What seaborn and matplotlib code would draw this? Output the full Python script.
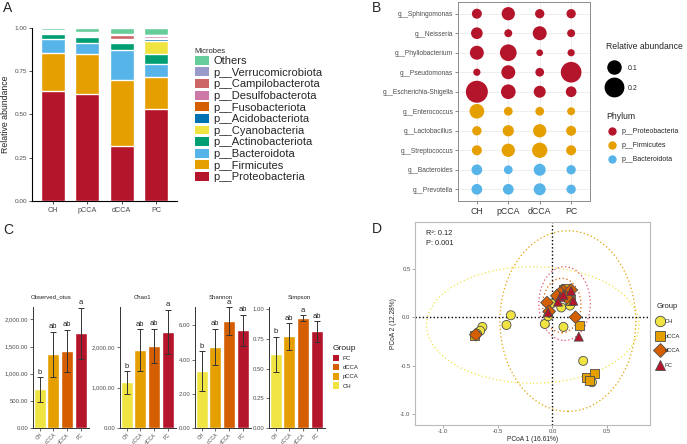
import numpy as np
import pandas as pd
import matplotlib
matplotlib.use("Agg")
import matplotlib.pyplot as plt
import seaborn as sns
from matplotlib.patches import Ellipse, Patch
from matplotlib.lines import Line2D
from matplotlib.ticker import FuncFormatter

sns.set_theme(style="white")
plt.rcParams['font.family'] = ['Liberation Sans', 'DejaVu Sans']

W, H = 687, 444

def px(l, t, w, h):
    # pixel box (left, top, width, height) -> figure fraction
    return [l / W, 1 - (t + h) / H, w / W, h / H]

groups = ['CH', 'pCCA', 'dCCA', 'PC']
group_colors = ['#F0E442', '#E69F00', '#D55E00', '#B5152B']

# ---- A: phylum composition (bottom -> top)
phyla = ['p__Proteobacteria', 'p__Firmicutes', 'p__Bacteroidota', 'p__Actinobacteriota',
         'p__Cyanobacteria', 'p__Acidobacteriota', 'p__Fusobacteriota', 'p__Desulfobacterota',
         'p__Campilobacterota', 'p__Verrucomicrobiota', 'Others']
phyla_colors = ['#B5152B', '#E69F00', '#56B4E9', '#009E73', '#F0E442', '#0072B2',
                '#D55E00', '#CC79A7', '#CC6666', '#9999CC', '#66CC99']
proteo = [0.637, 0.617, 0.318, 0.530]
firmi = [0.217, 0.233, 0.381, 0.188]
bactero = [0.084, 0.063, 0.175, 0.074]
actino = [0.027, 0.035, 0.039, 0.057]
cyano = [0.003, 0.003, 0.005, 0.073]
acido = [0.002, 0.004, 0.006, 0.015]
fuso = [0.006, 0.002, 0.008, 0.004]
desulfo = [0.003, 0.008, 0.004, 0.012]
campilo = [0.006, 0.004, 0.024, 0.004]
verruco = [0.002, 0.008, 0.003, 0.003]
others = [0.013, 0.023, 0.037, 0.040]

# ---- B: top genera bubble plot
genera = ['g__Sphingomonas', 'g__Neisseria', 'g__Phyllobacterium', 'g__Pseudomonas',
          'g__Escherichia-Shigella', 'g__Enterococcus', 'g__Lactobacillus',
          'g__Streptococcus', 'g__Bacteroides', 'g__Prevotella']
genus_phylum = ['p__Proteobacteria'] * 5 + ['p__Firmicutes'] * 3 + ['p__Bacteroidota'] * 2
gen_CH = [0.040, 0.060, 0.092, 0.014, 0.250, 0.103, 0.033, 0.040, 0.048, 0.048]
gen_pCCA = [0.082, 0.020, 0.138, 0.092, 0.103, 0.027, 0.055, 0.082, 0.027, 0.048]
gen_dCCA = [0.033, 0.092, 0.010, 0.027, 0.064, 0.027, 0.082, 0.113, 0.064, 0.064]
gen_PC = [0.033, 0.020, 0.014, 0.219, 0.048, 0.020, 0.040, 0.040, 0.033, 0.033]
phylum_palette = {'p__Proteobacteria': '#B5152B', 'p__Firmicutes': '#E69F00',
                  'p__Bacteroidota': '#56B4E9'}

# ---- C: alpha diversity (mean, sd, letters)
alpha_titles = ['Observed_otus', 'Chao1', 'Shannon', 'Simpson']
obs_mean = [710, 1360, 1420, 1745]
obs_sd = [225, 415, 395, 475]
chao_mean = [1130, 1930, 2030, 2380]
chao_sd = [280, 510, 420, 540]
shan_mean = [3.34, 4.74, 6.25, 5.72]
shan_sd = [1.17, 1.07, 0.81, 0.90]
simp_mean = [0.620, 0.772, 0.926, 0.814]
simp_sd = [0.150, 0.112, 0.024, 0.085]
obs_letters = ['b', 'ab', 'ab', 'a']
chao_letters = ['b', 'ab', 'ab', 'a']
shan_letters = ['b', 'ab', 'a', 'ab']
simp_letters = ['b', 'ab', 'a', 'ab']

# ---- D: PCoA
ch_x = [-0.38, -0.42, -0.64, -0.66, -0.69, -0.07, 0.10, -0.04, 0.08, 0.16, -0.01, 0.28, 0.36]
ch_y = [0.02, -0.08, -0.10, -0.14, -0.17, -0.07, -0.10, 0.01, 0.10, 0.12, 0.14, -0.45, -0.67]
pcca_x = [0.25, 0.31, 0.38, 0.34, 0.16, 0.10, 0.15, -0.71, 0.12]
pcca_y = [-0.09, -0.62, -0.58, -0.65, 0.17, 0.28, 0.22, -0.19, 0.30]
dcca_x = [-0.05, 0.21, -0.03, 0.10, 0.07, 0.17, 0.13, -0.70, 0.04]
dcca_y = [0.15, 0.00, 0.06, 0.27, 0.25, 0.28, 0.20, -0.18, 0.22]
pc_x = [-0.04, 0.24, 0.07, 0.17, 0.10, 0.19, 0.05]
pc_y = [0.05, -0.20, 0.21, 0.27, 0.23, 0.17, 0.16]
ell_cx = [-0.18, 0.14, 0.085, 0.11]
ell_cy = [-0.08, -0.04, 0.12, 0.14]
ell_w = [1.94, 1.24, 0.35, 0.47]
ell_h = [1.20, 1.86, 0.56, 0.76]

fig = plt.figure(figsize=(W / 100, H / 100), dpi=100)
fig.patch.set_facecolor('white')

# ================= A
axA = fig.add_axes(px(32, 28, 145, 173))
comp = np.array([proteo, firmi, bactero, actino, cyano, acido, fuso, desulfo, campilo, verruco, others])
tops = comp.cumsum(axis=0)
for i in range(len(phyla) - 1, -1, -1):
    sns.barplot(x=groups, y=tops[i], color=phyla_colors[i], width=0.7, saturation=1, ax=axA)
axA.set_ylim(0, 1.0)
axA.set_xlim(-0.6, 3.6)
axA.set_yticks([0, 0.25, 0.5, 0.75, 1.0])
axA.yaxis.set_major_formatter(FuncFormatter(lambda v, p: f'{v:.2f}'))
axA.set_ylabel('Relative abundance', fontsize=6.3, labelpad=3)
axA.set_xlabel('')
for s in ['top', 'right']:
    axA.spines[s].set_visible(False)
for s in ['left', 'bottom']:
    axA.spines[s].set_color('black')
    axA.spines[s].set_linewidth(0.8)
axA.tick_params(axis='both', length=2, width=0.6, color='#333333', labelsize=4.6,
                labelcolor='#4D4D4D', left=True, bottom=True, pad=1.5)
axA.tick_params(axis='x', labelsize=5.2, pad=2)

handlesA = [Patch(facecolor=phyla_colors[i], edgecolor='none', label=phyla[i])
            for i in range(len(phyla) - 1, -1, -1)]
legA = fig.legend(handles=handlesA, loc='upper left', bbox_to_anchor=(189 / W, 1 - 42 / H),
                  frameon=False, fontsize=8, title='Microbes', title_fontsize=5.5,
                  handlelength=1.3, handleheight=0.85, handletextpad=0.4,
                  labelspacing=0.12, borderpad=0, alignment='left')

# ================= B
rows = []
vals = [gen_CH, gen_pCCA, gen_dCCA, gen_PC]
for gi in range(len(genera) - 1, -1, -1):
    for k, g in enumerate(groups):
        rows.append({'genus': genera[gi], 'group': g, 'value': vals[k][gi],
                     'phylum': genus_phylum[gi]})
dfB = pd.DataFrame(rows)
axB = fig.add_axes(px(458, 2, 132, 199))
axB.set_axisbelow(True)
axB.grid(True, color='#EBEBEB', lw=0.6)
smin, smax = 23.2, 251.0
sns.scatterplot(data=dfB, x='group', y='genus', hue='phylum', palette=phylum_palette,
                size='value', sizes=(smin, smax), size_norm=(0.01, 0.25),
                edgecolor='none', linewidth=0, legend=False, ax=axB, zorder=3)
axB.set_xlim(-0.6, 3.6)
axB.set_ylim(-0.6, 9.6)
axB.set_xlabel('')
axB.set_ylabel('')
for s in axB.spines.values():
    s.set_color('#8C8C8C')
    s.set_linewidth(0.7)
axB.tick_params(axis='y', length=2, width=0.5, color='#555555', labelsize=4.8,
                labelcolor='#4D4D4D', left=True, pad=1.5)
axB.tick_params(axis='x', length=2, width=0.5, color='#555555', labelsize=6.3,
                labelcolor='#333333', bottom=True, pad=2)

def bub(v):
    return smin + (v - 0.01) / 0.24 * (smax - smin)

size_handles = [Line2D([], [], ls='', marker='o', markerfacecolor='black', markeredgecolor='none',
                       markersize=np.sqrt(bub(v)), label=str(v)) for v in [0.1, 0.2]]
legB1 = fig.legend(handles=size_handles, loc='upper left', bbox_to_anchor=(603 / W, 1 - 39 / H),
                   frameon=False, fontsize=5, title='Relative abundance', title_fontsize=6.2,
                   handletextpad=0.9, labelspacing=1.9, borderpad=0, alignment='left',
                   handlelength=2.2)
ph_handles = [Line2D([], [], ls='', marker='o', markerfacecolor=phylum_palette[p],
                     markeredgecolor='none', markersize=6, label=p) for p in phylum_palette]
legB2 = fig.legend(handles=ph_handles, loc='upper left', bbox_to_anchor=(603 / W, 1 - 109 / H),
                   frameon=False, fontsize=5, title='Phylum', title_fontsize=6.2,
                   handletextpad=0.6, labelspacing=1.0, borderpad=0, alignment='left',
                   handlelength=1.5)

# ================= C
alpha_means = [obs_mean, chao_mean, shan_mean, simp_mean]
alpha_sds = [obs_sd, chao_sd, shan_sd, simp_sd]
alpha_letters = [obs_letters, chao_letters, shan_letters, simp_letters]
alpha_ylim = [2230, 2990, 7.08, 1.02]
alpha_ticks = [[0, 500, 1000, 1500, 2000], [0, 1000, 2000], [0, 2, 4, 6], [0, 0.25, 0.5, 0.75, 1.0]]
alpha_left = [33, 120, 195, 269]
title_x = [0.32, 0.41, 0.46, 0.54]
for j in range(4):
    ax = fig.add_axes(px(alpha_left[j], 307, 56, 121))
    sns.barplot(x=groups, y=alpha_means[j], hue=groups, palette=group_colors, width=0.88,
                saturation=1, legend=False, ax=ax)
    ax.errorbar(range(4), alpha_means[j], yerr=alpha_sds[j], fmt='none', ecolor='#333333',
                elinewidth=0.7, capsize=2.4, capthick=0.7)
    for k in range(4):
        ax.annotate(alpha_letters[j][k], (k, alpha_means[j][k] + alpha_sds[j][k]),
                    xytext=(0, 1), textcoords='offset points', ha='center', va='bottom',
                    fontsize=5.5, color='#222222')
    ax.set_xlim(-0.48, 3.6)
    ax.set_ylim(0, alpha_ylim[j])
    ax.set_yticks(alpha_ticks[j])
    ax.yaxis.set_major_formatter(FuncFormatter(lambda v, p: f'{v:,.2f}'))
    ax.set_title(alpha_titles[j], fontsize=4.3, pad=6, color='#222222', x=title_x[j])
    ax.set_xlabel('')
    ax.set_ylabel('')
    for s in ['top', 'right']:
        ax.spines[s].set_visible(False)
    for s in ['left', 'bottom']:
        ax.spines[s].set_color('#333333')
        ax.spines[s].set_linewidth(0.7)
    ax.tick_params(axis='both', length=2, width=0.5, color='#333333', labelsize=4.3,
                   labelcolor='#4D4D4D', left=True, bottom=True, pad=1.5)
    ax.tick_params(axis='x', labelsize=3.7, pad=1)
    for lab in ax.get_xticklabels():
        lab.set_rotation(45)
        lab.set_ha('right')
        lab.set_rotation_mode('anchor')

handlesC = [Patch(facecolor=group_colors[i], edgecolor='none', label=groups[i]) for i in [3, 2, 1, 0]]
fig.legend(handles=handlesC, loc='upper left', bbox_to_anchor=(330 / W, 1 - 342 / H),
           frameon=False, fontsize=4.3, title='Group', title_fontsize=6,
           handlelength=1.0, handleheight=1.3, handletextpad=0.6, labelspacing=0.45,
           borderpad=0, alignment='left')

# ================= D
dfD = pd.DataFrame({
    'x': ch_x + pcca_x + dcca_x + pc_x,
    'y': ch_y + pcca_y + dcca_y + pc_y,
    'group': ['CH'] * len(ch_x) + ['pCCA'] * len(pcca_x) + ['dCCA'] * len(dcca_x) + ['PC'] * len(pc_x),
})
markers = {'CH': 'o', 'pCCA': 's', 'dCCA': 'D', 'PC': '^'}
palD = dict(zip(groups, group_colors))
axD = fig.add_axes(px(415, 222, 235, 203))
for k in range(4):
    axD.add_patch(Ellipse((ell_cx[k], ell_cy[k]), ell_w[k], ell_h[k], fill=False,
                          edgecolor=group_colors[k] if k < 3 else '#E0506A',
                          ls=(0, (1, 2)), lw=0.9, zorder=1))
axD.axhline(0, color='black', ls=(0, (1, 1.6)), lw=1.0, zorder=2)
axD.axvline(0, color='black', ls=(0, (1, 1.6)), lw=1.0, zorder=2)
sns.scatterplot(data=dfD, x='x', y='y', hue='group', style='group', markers=markers,
                palette=palD, s=42, edgecolor='#4D4D4D', linewidth=0.6, legend=False,
                ax=axD, zorder=3)
axD.set_xlim(-1.255, 0.89)
axD.set_ylim(-1.11, 0.98)
axD.set_xticks([-1.0, -0.5, 0.0, 0.5])
axD.set_yticks([-1.0, -0.5, 0.0, 0.5])
axD.xaxis.set_major_formatter(FuncFormatter(lambda v, p: f'{v:.1f}'))
axD.yaxis.set_major_formatter(FuncFormatter(lambda v, p: f'{v:.1f}'))
axD.set_xlabel('PCoA 1 (16.61%)', fontsize=4.8, labelpad=1)
axD.set_ylabel('PCoA 2 (12.28%)', fontsize=4.8, labelpad=2)
for s in axD.spines.values():
    s.set_color('#BBBBBB')
    s.set_linewidth(0.8)
axD.tick_params(axis='both', length=2, width=0.5, color='#888888', labelsize=4.3,
                labelcolor='#4D4D4D', left=True, bottom=True, pad=1.2)
axD.text(0.045, 0.935, 'R²: 0.12', transform=axD.transAxes, fontsize=5.3, color='#222222')
axD.text(0.045, 0.885, 'P: 0.001', transform=axD.transAxes, fontsize=5.3, color='#222222')

handlesD = [Line2D([], [], ls='', marker=markers[g], markerfacecolor=palD[g],
                   markeredgecolor='#4D4D4D', markeredgewidth=0.6, markersize=7.5, label=g)
            for g in groups]
fig.legend(handles=handlesD, loc='upper left', bbox_to_anchor=(654 / W, 1 - 300 / H),
           frameon=False, fontsize=4.2, title='Group', title_fontsize=5.5,
           handlelength=0.9, handletextpad=0.4, labelspacing=1.6, borderpad=0,
           alignment='left')

# panel letters
for lab, x, y in [('A', 3, 8), ('B', 372, 8), ('C', 3, 230), ('D', 372, 229)]:
    fig.text(x / W, 1 - y / H, lab, fontsize=10, va='center', ha='left')

fig.savefig('out.png', dpi=100)
